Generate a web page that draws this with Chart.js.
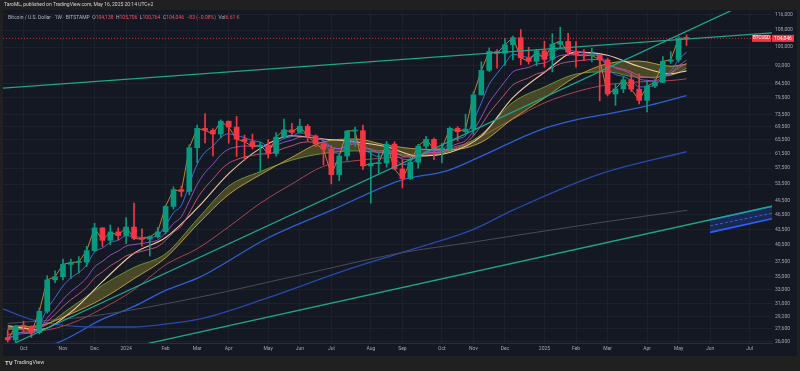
<!DOCTYPE html>
<html><head><meta charset="utf-8">
<script src="https://cdn.jsdelivr.net/npm/chart.js@4.4.1/dist/chart.umd.min.js"></script>
<style>html,body{margin:0;padding:0;background:#202020;}canvas{display:block;}</style>
</head><body>
<canvas id="c" width="800" height="371"></canvas>
<script>
// ---------- texts ----------
const publishedLine = 'TaroML, published on TradingView.com, May 16, 2025 20:14 UTC+2';
const symbolTitle = 'Bitcoin / U.S. Dollar · 1W · BITSTAMP';
const legendO = '104,138', legendH = '105,706', legendL = '100,764', legendC = '104,046';
const legendChange = '−83 (−0.08%)';
const legendVol = '6.61 K';
const tickerName = 'BTCUSD';
const brandName = 'TradingView';

// ---------- weekly candles (week 0 = 18 Sep 2023) ----------
const opens = [26530,26250,27970,27930,27150,29910,34530,35030,37060,37380,
37450,39470,43780,41370,42990,42280,43950,41730,41580,42030,
43010,48300,52140,51730,63130,68960,68390,67210,71280,69360,
65660,64940,63430,63900,61480,66270,68500,67760,69650,66640,
64260,62680,55850,60800,68160,68250,58100,58700,58900,64200,
57300,54850,59100,63600,65600,62800,62850,69000,67950,68750,
80400,89900,98000,97200,101100,104400,95200,93700,98300,94500,
101300,102600,97700,96500,96100,96300,94300,80700,82600,86100,
82500,78400,83700,85100,93700,94300,104138];
const highs = [27480,28050,28580,27980,30390,35200,35980,37970,37970,38420,
40250,44700,43800,44370,43800,45900,49050,43590,42200,43880,
48590,52820,52980,64000,69990,73800,68920,71760,71320,72800,
66870,67200,64740,65500,67700,71950,70600,71950,70200,66970,
64500,63800,61400,68300,69400,70000,62700,61800,65000,64900,
59800,60600,64100,66500,66000,64500,69400,69500,73600,81500,
93500,99600,98800,104000,105100,108300,99900,99000,102700,106300,
109500,106500,102500,98800,99500,96500,95000,84500,87500,88800,
88500,85900,86400,95700,97900,104900,105706];
const lows = [26000,26010,27170,26540,26970,29660,34080,34530,34760,35630,
36700,39300,40200,40540,41420,40750,41500,40280,38500,41800,
42580,47700,50520,50900,59000,64550,60800,66000,64500,60660,
59600,62800,56500,60200,60750,66100,67100,67600,65050,63400,
58400,53500,54300,59600,63500,57200,49000,56200,57800,57100,
52550,54600,57500,62700,59800,58900,62000,65100,67500,66800,
80300,89400,90800,92000,94300,92200,92500,91800,91200,89300,
99500,96200,91200,94000,93400,78200,80000,76600,81200,81600,
77100,74400,83100,85000,92800,93400,100764];
const closes = [26250,27970,27930,27150,29910,34530,35030,37060,37380,37450,
39470,43780,41370,42990,42280,43950,41730,41580,42030,43010,
48300,52140,51730,63130,68960,68390,67210,71280,69360,65660,
64940,63430,63900,61480,66270,68500,67760,69650,66640,64260,
62680,55850,60800,68160,68250,58100,58700,58900,64200,57300,
54850,59100,63600,65600,62800,62850,69000,67950,68750,80400,
89900,98000,97200,101100,104400,95200,93700,98300,94500,101300,
102600,97700,96500,96100,96300,94300,80700,82600,86100,82500,
78400,83700,85100,93700,94300,104138,104046];

// ---------- fast averages (weekly, read/estimated) ----------
const fastBlue = [26300,26860,27220,27200,28100,30240,31840,33580,34850,35720,
36970,39240,39950,40960,41400,42250,42080,41910,41950,42300,
44300,46910,48520,53390,58580,61850,63640,66190,67250,66720,
66130,65230,64790,63690,64550,65870,66500,67550,67250,66250,
65060,61990,61590,63780,65270,62880,61490,60630,61820,60310,
58490,58690,60330,62090,62330,62500,64670,65760,66760,71310,
77510,84340,88630,92790,96660,96170,95350,96330,95720,97580,
99250,98730,97990,97360,97010,96110,90970,88180,87490,85830,
83350,83470,84010,87240,89590,94430,97620];
const fastPurple = [26500,26790,27020,27050,27620,29000,30210,31580,32740,33680,
34840,36630,37580,38660,39380,40290,40580,40780,41030,41430,
42800,44670,46080,49490,53380,56380,58550,61100,62750,63330,
63650,63610,63670,63230,63840,64770,65370,66230,66310,65900,
65260,63380,62860,63920,64790,63450,62500,61780,62260,61270,
59990,59810,60570,61580,61820,62030,63420,64330,65210,68250,
72580,77660,81570,85480,89260,90450,91100,92540,92930,94610,
96210,96510,96510,96430,96400,95980,92920,90860,89910,88430,
86420,85880,85720,87320,88720,91800,94240];
const fastPink = [26900,27050,27180,27180,27570,28560,29480,30560,31540,32380,
33390,34870,35800,36830,37610,38520,38980,39350,39730,40200,
41360,42900,44160,46870,50030,52650,54730,57090,58840,59810,
60540,60950,61370,61390,62090,63010,63690,64540,64840,64760,
64460,63230,62880,63630,64290,63410,62740,62190,62480,61740,
60760,60520,60960,61620,61790,61940,62950,63660,64390,66680,
70000,74000,77310,80710,84090,85680,86830,88470,89330,91040,
92690,93410,93850,94170,94470,94450,92490,91080,90370,89250,
87700,87130,86840,87820,88750,90940,92810];

// ---------- slower averages, read every 4 weeks ----------
const slowIdx = [0,4,8,12,16,20,24,28,32,36,40,44,48,52,56,60,64,68,72,76,80,84,86];
const bandSma = [27820,28030,29560,31690,34720,38200,44400,51000,55800,60450,64900,65700,63900,62750,62560,64750,72100,79200,87400,92700,93800,91600,92500];
const bandEma = [27570,27800,30440,33690,36550,38910,45510,53000,56610,59670,61520,62240,61600,60770,62170,67090,77670,83310,88370,89290,87040,87880,90680];
const peachAvg = [28000,27500,29800,34250,39000,41900,47900,56100,62960,66700,65700,64900,63400,60800,61800,66600,79400,89100,97700,96300,91500,88500,89700];
const maroonAvg = [27600,27400,28300,30300,33000,37000,39800,44000,49000,53500,58000,59500,60300,60800,62500,66500,72000,77500,81500,84200,85300,85800,86500];

// long averages
const ma50Idx = [0,6.2,12,16,20,24.4,32.9,41.2,49.7,55.7,59.8,67.4,72.5,75.9,81.4,86];
const ma50Val = [24900,25880,28850,30600,32900,35000,41750,47580,54350,56890,60540,68450,72000,73600,76700,80080];
const ma100Idx = [-0.6,3.2,10.4,15.9,20.2,24.4,32.9,42.1,49.7,59,64,75,86];
const ma100Val = [30230,28750,27840,27840,28230,28880,31790,35780,39030,43480,47470,55970,61990];
const ma200Idx = [0,10.8,24.4,37,49.7,59,75,86.1];
const ma200Val = [28300,29280,31930,35300,39030,41040,44850,47460];

// trend lines (week index, price)
const trendTopIdx = [-0.6,96.83], trendTopVal = [82880,106650];
const trendMidIdx = [0.925,96.83], trendMidVal = [25880,128800];
const trendLowIdx = [16.76,96.83], trendLowVal = [25620,48330];
// projected channel
const chanIdx = [89,96.83];
const chanTop = [45400,48330];
const chanMid = [44210,46800];
const chanBot = [42900,45650];

// axes
const monthTickIdx = [2,7,11,15,20,24,28,33,37,41,46,50,55,59,63,68,72,76,81,85,89,94];
const monthTickLabels = ['Oct','Nov','Dec','2024','Feb','Mar','Apr','May','Jun','Jul','Aug','Sep','Oct','Nov','Dec','2025','Feb','Mar','Apr','May','Jun','Jul'];
const priceTicks = [26000,27600,29200,31000,33000,35000,37500,40500,43500,46500,49500,53500,57500,61500,65500,69500,73500,79500,84500,92000,100000,108000,116000];

// ---------- build ----------
const UP = '#089981', DOWN = '#f23645';
const candleColors = closes.map((c,i)=> c >= opens[i] ? UP : DOWN);
const pts = (xs, ys) => xs.map((x,k)=>({x:x, y:ys[k]}));
const weekly = arr => arr.map((v,i)=>({x:i, y:v}));
const lastClose = closes[closes.length-1];
const X_MIN = -0.6, X_MAX = 96.83;

function lineDS(label, data, color, width, order, extra) {
  return Object.assign({type:'line', label, data, borderColor:color, backgroundColor:color,
    borderWidth:width, pointRadius:0, cubicInterpolationMode:'monotone', fill:false, order}, extra||{});
}

const datasets = [
  {type:'bar', label:'wicks', data: opens.map((o,i)=>({x:i, y:[lows[i], highs[i]]})),
   backgroundColor:candleColors, barThickness:1, grouped:false, borderWidth:0, order:11},
  {type:'bar', label:'bodies', data: opens.map((o,i)=>({x:i, y:[o, closes[i]]})),
   backgroundColor:candleColors, barThickness:5, grouped:false, borderWidth:0, minBarLength:1, order:10},
  lineDS('price', pts([X_MIN, X_MAX],[lastClose,lastClose]), '#f23645', 0.8, 9, {borderDash:[1,2]}),
  lineDS('ma200', pts(ma200Idx, ma200Val), '#484c57', 1, 40),
  lineDS('ma100', pts(ma100Idx, ma100Val), '#2a47ad', 1.3, 40),
  lineDS('ma50', pts(ma50Idx, ma50Val), '#2f5fd3', 1.3, 40),
  lineDS('maroon', pts(slowIdx, maroonAvg), '#a8454d', 1, 38),
  lineDS('bandSma', pts(slowIdx, bandSma), '#c9a634', 0.9, 30),
  lineDS('bandEma', pts(slowIdx, bandEma), '#6f9c3d', 0.9, 30, {fill:'-1', backgroundColor:'rgba(150,142,44,0.40)'}),
  lineDS('peach', pts(slowIdx, peachAvg), '#f3c6a0', 1.1, 25),
  lineDS('fastPink', weekly(fastPink), '#cf5680', 0.9, 20),
  lineDS('fastPurple', weekly(fastPurple), '#a251d4', 0.9, 19),
  lineDS('fastBlue', weekly(fastBlue), '#3f7be6', 0.9, 18),
  lineDS('close', weekly(closes), '#d9892a', 0.9, 15, {cubicInterpolationMode:'default', tension:0}),
  lineDS('chanTop', pts(chanIdx, chanTop), '#2962ff', 1.6, 4, {cubicInterpolationMode:'default', tension:0}),
  lineDS('chanBot', pts(chanIdx, chanBot), '#2962ff', 1.6, 4, {cubicInterpolationMode:'default', tension:0, fill:'-1', backgroundColor:'rgba(41,98,255,0.22)'}),
  lineDS('chanMid', pts(chanIdx, chanMid), '#3d6ff2', 0.8, 4, {cubicInterpolationMode:'default', tension:0, borderDash:[3,2]}),
  lineDS('trendTop', pts(trendTopIdx, trendTopVal), '#1fa58b', 1.3, 1, {cubicInterpolationMode:'default', tension:0}),
  lineDS('trendMid', pts(trendMidIdx, trendMidVal), '#1fa58b', 1.3, 1, {cubicInterpolationMode:'default', tension:0}),
  lineDS('trendLow', pts(trendLowIdx, trendLowVal), '#1fa58b', 1.3, 1, {cubicInterpolationMode:'default', tension:0})
];

const FONT = 'Roboto';
const decor = {
  id:'decor',
  beforeDraw(chart){
    const ctx = chart.ctx;
    ctx.save();
    ctx.fillStyle = '#202020'; ctx.fillRect(0,0,800,371);
    ctx.fillStyle = '#141823'; ctx.fillRect(3,10,794,346);
    ctx.restore();
  },
  afterDraw(chart){
    const ctx = chart.ctx, ys = chart.scales.y, area = chart.chartArea;
    ctx.save();
    ctx.textBaseline = 'middle';
    ctx.font = '5px ' + FONT;
    ctx.fillStyle = '#d1d4dc';
    ctx.textAlign = 'left';
    ctx.fillText(publishedLine, 4, 5);
    const gray = '#b2b5be', red = '#f7525f';
    const segs = [[symbolTitle+'  ', gray],['O',gray],[legendO+'  ',red],['H',gray],[legendH+'  ',red],
      ['L',gray],[legendL+'  ',red],['C',gray],[legendC+'  ',red],[legendChange+'  ',red],['Vol',gray],[legendVol,red]];
    let x = 8;
    for (const [t,c] of segs){ ctx.fillStyle=c; ctx.fillText(t,x,18); x += ctx.measureText(t).width; }
    // price tags
    const py = ys.getPixelForValue(lastClose);
    ctx.fillStyle = '#f23645';
    ctx.fillRect(752, py-3.5, 19, 7);
    ctx.fillRect(772, py-3.5, 22, 7);
    ctx.fillStyle = '#ffffff';
    ctx.font = '4.5px ' + FONT;
    ctx.textAlign = 'center';
    ctx.fillText(tickerName, 761.5, py);
    ctx.font = '5px ' + FONT;
    ctx.fillText(legendC, 783, py);
    // footer
    ctx.textAlign = 'left';
    ctx.fillStyle = '#d1d4dc';
    ctx.font = 'bold 6px ' + FONT;
    ctx.fillText('TV', 5, 363);
    ctx.font = '5.5px ' + FONT;
    ctx.fillText(brandName, 14, 363);
    ctx.restore();
  }
};

new Chart(document.getElementById('c'), {
  type:'line',
  data:{datasets},
  options:{
    responsive:false, animation:false, devicePixelRatio:1,
    layout:{padding:{left:3,right:3,top:11,bottom:15}},
    plugins:{legend:{display:false}, tooltip:{enabled:false}},
    scales:{
      x:{type:'linear', min:X_MIN, max:X_MAX, offset:false, position:'bottom',
        afterBuildTicks: s => { s.ticks = monthTickIdx.map(v=>({value:v})); },
        afterFit: s => { s.height = 13; },
        grid:{color:'#1d212c', drawTicks:false, offset:false},
        border:{display:true, color:'#2a2e39'},
        ticks:{autoSkip:false, maxRotation:0, padding:3, color:'#a3a6af', font:{family:FONT, size:5},
          callback:(v,i)=>monthTickLabels[i]}},
      y:{type:'logarithmic', position:'right', min:25880, max:117900,
        afterBuildTicks: s => { s.ticks = priceTicks.map(v=>({value:v})); },
        afterFit: s => { s.width = 25; },
        grid:{color:'#1d212c', drawTicks:false},
        border:{display:false},
        ticks:{autoSkip:false, padding:3, color:'#a3a6af', font:{family:FONT, size:5},
          callback:v=>Number(v).toLocaleString('en-US')}}
    }
  },
  plugins:[decor]
});
</script>
</body></html>
